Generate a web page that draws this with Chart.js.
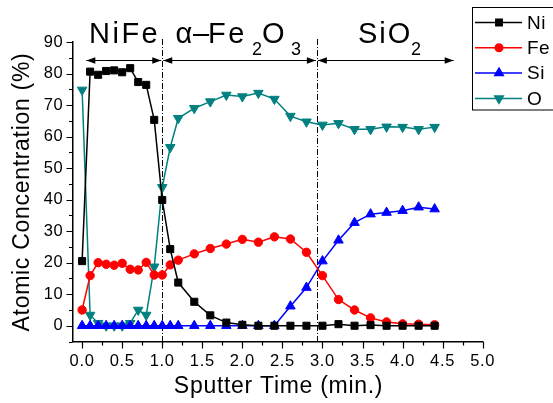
<!DOCTYPE html>
<html>
<head>
<meta charset="utf-8">
<script src="https://cdn.jsdelivr.net/npm/chart.js@4.4.1/dist/chart.umd.min.js"></script>
<style>
  html, body { margin: 0; padding: 0; background: #fff; }
  canvas { display: block; }
</style>
</head>
<body>
<canvas id="myChart" width="553" height="403"></canvas>
<script>
// sputter time (min.) of each depth profile point
const sputterTime = [0, 0.1, 0.2, 0.3, 0.4, 0.5, 0.6, 0.7, 0.8, 0.9, 1.0, 1.1, 1.2,
  1.4, 1.6, 1.8, 2.0, 2.2, 2.4, 2.6, 2.8, 3.0, 3.2, 3.4, 3.6, 3.8, 4.0, 4.2, 4.4];

// atomic concentration (%)
const niValues = [20.5, 80.6, 79.6, 80.8, 81.0, 80.4, 81.7, 77.3, 76.4, 65.3, 39.9, 24.3, 13.7,
  7.6, 3.3, 1.0, 0.3, 0, 0, 0, 0, 0, 0.5, 0, 0.2, 0, 0, 0, 0];
const feValues = [5.0, 15.9, 20.0, 19.5, 19.2, 19.8, 17.9, 17.7, 20.1, 16.1, 16.1, 19.3, 20.8,
  22.8, 24.5, 25.9, 27.4, 26.5, 28.2, 27.5, 23.3, 15.9, 8.3, 5.0, 2.5, 1.2, 0.6, 0.5, 0.3];
const siValues = [0, 0, 0, 0, 0, 0, 0, 0, 0, 0, 0, 0, 0,
  0, 0, 0, 0, 0, 0, 6.2, 12.1, 20.5, 27.1, 32.7, 35.4, 35.9, 36.5, 37.6, 37.0];
const oValues = [74.8, 3.4, 0.8, 0, 0, 0, 0.8, 5.0, 3.4, 18.7, 43.9, 56.6, 65.8,
  69.0, 71.1, 73.2, 72.7, 73.8, 71.9, 66.5, 64.7, 63.7, 64.2, 62.3, 62.3, 63.1, 63.0, 62.3, 63.0];

// layer boundaries (min.) and the arrow spans above the profile
const boundaries = [1.0, 2.93];
const layerSpans = [[0.04, 1.0], [1.0, 2.93], [2.93, 4.65]];
const arrowLevel = 84.3;

const FONT = "'Liberation Sans', Arial, Helvetica, sans-serif";

function toPoints(values) {
  return values.map((v, i) => ({ x: sputterTime[i], y: v }));
}

const seriesDefs = [
  { label: "Ni", data: niValues, color: "#000000", style: "rect", radius: 5, rotation: 0 },
  { label: "Fe", data: feValues, color: "#ff0000", style: "circle", radius: 4.2, rotation: 0 },
  { label: "Si", data: siValues, color: "#0000ff", style: "triangle", radius: 5.5, rotation: 0 },
  { label: "O", data: oValues, color: "#008080", style: "triangle", radius: 5.5, rotation: 180 },
];

// the lettering runs a little wide, so space glyphs out a bit everywhere
const looseText = {
  id: "looseText",
  beforeDraw(chart) {
    chart.ctx.letterSpacing = "0.7px";
  },
};

// dash-dot layer boundaries behind the curves
const boundaryLines = {
  id: "boundaryLines",
  beforeDatasetsDraw(chart) {
    const { ctx, chartArea, scales } = chart;
    ctx.save();
    ctx.strokeStyle = "#000";
    ctx.lineWidth = 1;
    ctx.setLineDash([6, 2, 1, 2]);
    boundaries.forEach((b) => {
      const x = Math.round(scales.x.getPixelForValue(b)) + 0.5;
      ctx.beginPath();
      ctx.moveTo(x, chartArea.top - 3);
      ctx.lineTo(x, chartArea.bottom);
      ctx.stroke();
    });
    ctx.restore();
  },
};

function arrowHead(ctx, x, y, dir) {
  ctx.beginPath();
  ctx.moveTo(x, y);
  ctx.lineTo(x - dir * 9, y - 3.2);
  ctx.lineTo(x - dir * 9, y + 3.2);
  ctx.closePath();
  ctx.fill();
}

const decorations = {
  id: "decorations",
  afterDraw(chart) {
    const { ctx, chartArea, scales } = chart;
    const xs = scales.x, ys = scales.y;
    ctx.save();
    ctx.strokeStyle = "#000";
    ctx.fillStyle = "#000";
    ctx.lineWidth = 1.2;

    // tick marks, outward, with minor ticks in between
    ctx.beginPath();
    for (let t = 0; t <= 5.0001; t += 0.25) {
      const x = Math.round(xs.getPixelForValue(t)) + 0.5;
      const major = Math.abs(t / 0.5 - Math.round(t / 0.5)) < 1e-6;
      ctx.moveTo(x, chartArea.bottom);
      ctx.lineTo(x, chartArea.bottom + (major ? 7 : 4));
    }
    for (let v = -5; v <= 90; v += 5) {
      const y = Math.round(ys.getPixelForValue(v)) + 0.5;
      const major = v % 10 === 0;
      ctx.moveTo(chartArea.left, y);
      ctx.lineTo(chartArea.left - (major ? 6 : 3.5), y);
    }
    ctx.stroke();

    // axis titles
    ctx.font = "23px " + FONT;
    ctx.letterSpacing = "0.7px";
    ctx.textAlign = "center";
    ctx.textBaseline = "alphabetic";
    ctx.fillText("Sputter Time (min.)", 278.5, 393);
    ctx.save();
    ctx.translate(28.5, 192);
    ctx.rotate(-Math.PI / 2);
    ctx.fillText("Atomic Concentration (%)", 0, 0);
    ctx.restore();

    // layer arrows
    const ay = Math.round(ys.getPixelForValue(arrowLevel)) + 0.5;
    ctx.lineWidth = 1;
    layerSpans.forEach(([a, b]) => {
      const x1 = xs.getPixelForValue(a) + 1;
      const x2 = xs.getPixelForValue(b) - 1;
      ctx.beginPath();
      ctx.moveTo(x1, ay);
      ctx.lineTo(x2, ay);
      ctx.stroke();
      arrowHead(ctx, x1, ay, -1);
      arrowHead(ctx, x2, ay, 1);
    });

    // layer names with subscripts: [text, subscript, x, letter spacing]
    ctx.textAlign = "left";
    const big = "29px " + FONT, sub = "18px " + FONT;
    const pieces = [
      ["NiFe", false, 89, 2.5],
      ["\u03b1", false, 175.5, 0],
      ["\u2013", false, 193, 0],
      ["Fe", false, 208, 2.5],
      ["2", true, 252, 0],
      ["O", false, 262, 0],
      ["3", true, 291, 0],
      ["SiO", false, 358, 2],
      ["2", true, 411, 0],
    ];
    pieces.forEach(([text, isSub, x, spacing]) => {
      ctx.font = isSub ? sub : big;
      ctx.letterSpacing = spacing + "px";
      ctx.fillText(text, x, isSub ? 55 : 43);
    });

    // legend box, partly cut by the right edge
    ctx.letterSpacing = "0.5px";
    ctx.lineWidth = 1;
    ctx.strokeRect(472.5, 7.5, 100, 102.5);
    ctx.font = "19px " + FONT;
    ctx.textBaseline = "middle";
    seriesDefs.forEach((s, i) => {
      const y = 22.5 + i * 25.3;
      ctx.strokeStyle = s.color;
      ctx.fillStyle = s.color;
      ctx.lineWidth = 1.5;
      ctx.beginPath();
      ctx.moveTo(475, y);
      ctx.lineTo(522, y);
      ctx.stroke();
      Chart.helpers.drawPoint(ctx, {
        pointStyle: s.style,
        radius: s.radius * 0.9,
        rotation: s.rotation,
        borderWidth: 1,
      }, 499, y);
      ctx.fillStyle = "#000";
      ctx.fillText(s.label, 527, y + 1);
    });
    ctx.restore();
  },
};

const config = {
  type: "line",
  data: {
    datasets: seriesDefs.map((s) => ({
      label: s.label,
      data: toPoints(s.data),
      borderColor: s.color,
      backgroundColor: s.color,
      borderWidth: 1.5,
      pointStyle: s.style,
      pointRadius: s.radius,
      pointRotation: s.rotation,
      pointBorderWidth: 1,
      tension: 0,
      clip: false,
    })),
  },
  options: {
    responsive: false,
    animation: false,
    events: [],
    layout: { padding: { top: 42, right: 70.3, bottom: 0, left: 0 } },
    plugins: {
      legend: { display: false },
      title: { display: false },
      tooltip: { enabled: false },
    },
    scales: {
      x: {
        type: "linear",
        min: -0.12,
        max: 5.0,
        grid: { display: false, drawTicks: false },
        border: { display: true, color: "#000", width: 1.5 },
        ticks: {
          stepSize: 0.5,
          includeBounds: false,
          padding: 10,
          color: "#000",
          font: { family: FONT, size: 16.5 },
          maxRotation: 0,
          autoSkip: false,
          callback: (v) => v.toFixed(1),
        },
        afterFit(scale) { scale.height = 61.5; },
      },
      y: {
        type: "linear",
        min: -5,
        max: 90,
        grid: { display: false, drawTicks: false },
        border: { display: true, color: "#000", width: 1.5 },
        ticks: {
          stepSize: 10,
          includeBounds: false,
          padding: 9,
          color: "#000",
          font: { family: FONT, size: 16.5 },
          autoSkip: false,
        },
        afterFit(scale) { scale.width = 72.5; },
      },
    },
  },
  plugins: [looseText, boundaryLines, decorations],
};

const ctx = document.getElementById("myChart").getContext("2d");
new Chart(ctx, config);
</script>
</body>
</html>
